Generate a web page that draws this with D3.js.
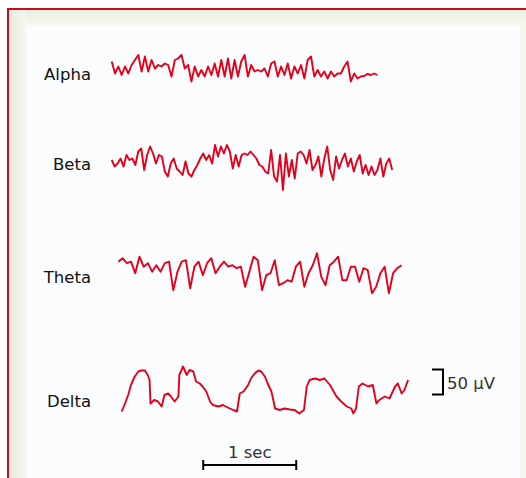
<!DOCTYPE html>
<html>
<head>
<meta charset="utf-8">
<script src="https://cdn.jsdelivr.net/npm/d3@7"></script>
<style>
  html, body { margin: 0; padding: 0; background: #ffffff; }
  svg { display: block; }
</style>
</head>
<body>
<div id="chart"></div>
<script>
// band names, in drawing order
const bands = ["Alpha", "Beta", "Theta", "Delta"];

// onset of each trace (sec) and sample rates (Hz) for the evenly sampled ones
const onsets = [0.126, 0.126, 0.197, 0.233];
const sampleRates = [28, 31.5, 22];

// amplitudes in microvolts
const alphaUV = [17, -7, 7, -10, 7, -7, 10, 20, 30, -3,
    27, -3, 20, 3, 10, 7, 13, 10, -13, 20,
    23, 30, 3, 10, -23, 7, -13, 0, -13, 7,
    -10, 13, -13, 20, -13, 23, -17, 20, -13, 17,
    30, -13, 10, -3, 0, -3, 3, -13, 13, 17,
    -13, 7, -10, 13, -17, 7, -7, 10, -17, 20,
    27, -13, 0, -13, -3, -17, -3, -13, -7, -7,
    7, 17, -23, -7, -17, -13, -12, -8, -10, -7,
    -10];

const betaUV = [4, -9, -3, 7, -9, 14, 4, 7, -6, 21,
    27, -16, 14, 31, 17, -3, 14, 11, -19, -29,
    -3, 7, -13, -19, -26, 1, -23, -29, -16, -6,
    7, 17, 4, 14, -3, 34, 11, 31, 17, 34,
    21, -13, 14, -9, 14,
    17, 14, 21, 14, 7, -6, -9, -19, -23, 24,
    -29, -39, 14, -56, 17, -29, 4, -33, 17, 21,
    14, -3, 24, -16, -6, 11, -29, 7, 31, -16,
    -36, 11, -13, 4, 17, -9, 7, -19, 1, 14,
    -23, -6, -26, -9, -26, -16, 7, -29, -3, 7,
    -16];

const thetaUV = [20, 27, 17, 20, -3, 30, 10, 17, 0, 13,
    0, 17, 20, -37, 0, 20, 23, -33, 10, 20,
    -7, 17, 27, -3, 10, 20, 10, 13, 7, 10,
    -30, 0, 30, 23, -37, -7, -3, 23, -27, -23,
    -17, -20, 10, 20, -30, -3, 13, 37, -10, -27,
    13, 20, 30, -17, -17, 10, 10, -20, 7, 3,
    -43, -30, -3, 10, -43, -3, 7, 13];

// delta is read at uneven times (sec from its onset) to keep the sharp edges
const deltaT = [0.00, 0.03, 0.07, 0.10, 0.14, 0.18, 0.21, 0.25, 0.28, 0.30,
    0.31, 0.35, 0.39, 0.43, 0.46, 0.50, 0.53, 0.57, 0.61, 0.62,
    0.66, 0.70, 0.73, 0.77, 0.80, 0.84, 0.87, 0.91, 0.95, 0.98,
    1.04, 1.09, 1.14, 1.20, 1.24, 1.27, 1.31, 1.36, 1.39, 1.43,
    1.47, 1.50, 1.54, 1.57, 1.61, 1.65, 1.70, 1.75, 1.81, 1.86,
    1.91, 1.96, 1.99, 2.02, 2.08, 2.13, 2.18, 2.24, 2.27, 2.31,
    2.36, 2.42, 2.47, 2.49, 2.52, 2.55, 2.59, 2.65, 2.70, 2.74,
    2.77, 2.83, 2.88, 2.94, 2.97, 3.01, 3.04, 3.08];
const deltaUV = [-43, -30, -10, 10, 27, 37, 39, 39, 30, 20,
    -27, -20, -23, -33, -10, -7, -13, -23, -13, 30,
    47, 30, 40, 37, 17, 13, 7, -3, -23, -30,
    -33, -30, -35, -40, -43, -7, -3, 10, 23, 33,
    39, 37, 27, 13, -3, -37, -40, -37, -39, -40,
    -47, -40, 7, 20, 23, 20, 23, 10, 0, -13,
    -23, -33, -37, -47, -37, 7, 13, 7, 10, -27,
    -20, -13, -17, 7, 13, -7, 0, 20];

// calibration bars
const scaleUV = 50;
const scaleSec = 1;
const timeBarStart = 1.11;

//DIMENSIONS
const width = 526, height = 478;
const rowY = [70, 162, 271.7, 390];
const labelY = [80, 170, 283, 407];
const traceColor = "#e2001c";

const svg = d3.select("#chart").append("svg")
    .attr("width", width)
    .attr("height", height);

//FRAME
const defs = svg.append("defs");
const gradL = defs.append("linearGradient").attr("id", "creamL")
    .attr("x1", 0).attr("x2", 1).attr("y1", 0).attr("y2", 0);
gradL.append("stop").attr("offset", 0).attr("stop-color", "#e9e9d9");
gradL.append("stop").attr("offset", 1).attr("stop-color", "#f6f7f2");
const gradT = defs.append("linearGradient").attr("id", "creamT")
    .attr("x1", 0).attr("x2", 0).attr("y1", 0).attr("y2", 1);
gradT.append("stop").attr("offset", 0).attr("stop-color", "#ebecdf");
gradT.append("stop").attr("offset", 1).attr("stop-color", "#f6f7f2");
// soft edge, the original is a scaled-up bitmap
defs.append("filter").attr("id", "soft")
    .append("feGaussianBlur").attr("stdDeviation", 0.45);

svg.append("rect").attr("x", 8).attr("y", 9).attr("width", width).attr("height", height)
    .attr("fill", "#f4f5ee");
svg.append("rect").attr("x", 8).attr("y", 9).attr("width", width).attr("height", 16)
    .attr("fill", "url(#creamT)");
svg.append("rect").attr("x", 8).attr("y", 9).attr("width", 18).attr("height", height)
    .attr("fill", "url(#creamL)");
svg.append("rect").attr("x", 26).attr("y", 25).attr("width", 494).attr("height", height)
    .attr("fill", "#fbfcfd");
svg.append("line").attr("x1", 7).attr("x2", width).attr("y1", 9).attr("y2", 9)
    .attr("stroke", "#cc0b1f").attr("stroke-width", 2);
svg.append("line").attr("x1", 8).attr("x2", 8).attr("y1", 8).attr("y2", height)
    .attr("stroke", "#cc0b1f").attr("stroke-width", 2);

//SCALES
const xScale = d3.scaleLinear().domain([0, 4]).range([100, 472]);
const yScale = d3.scaleLinear().domain([-50, 50]).range([25, -25]);

const series = [
    alphaUV.map((v, i) => ({ t: onsets[0] + i / sampleRates[0], v })),
    betaUV.map((v, i) => ({ t: onsets[1] + i / sampleRates[1], v })),
    thetaUV.map((v, i) => ({ t: onsets[2] + i / sampleRates[2], v })),
    deltaUV.map((v, i) => ({ t: onsets[3] + deltaT[i], v })),
];

const font = "'DejaVu Sans', Verdana, sans-serif";

bands.forEach((name, k) => {
    const row = svg.append("g").attr("transform", `translate(0,${rowY[k]})`);
    const line = d3.line()
        .x(d => xScale(d.t))
        .y(d => yScale(d.v));
    row.append("path")
        .datum(series[k])
        .attr("d", line)
        .attr("fill", "none")
        .attr("stroke", traceColor)
        .attr("stroke-width", 1.9)
        .attr("stroke-linejoin", "round")
        .attr("filter", "url(#soft)");

    svg.append("text")
        .attr("x", 91)
        .attr("y", labelY[k])
        .attr("text-anchor", "end")
        .attr("font-family", font)
        .attr("font-size", 16.5)
        .attr("fill", "#111")
        .text(name);
});

//AMPLITUDE BAR
const ampG = svg.append("g").attr("transform", "translate(0,382)");
const bx = 443, tick = 11;
ampG.append("path")
    .attr("d", `M${bx - tick},${yScale(scaleUV / 2)}H${bx}V${yScale(-scaleUV / 2)}H${bx - tick}`)
    .attr("fill", "none")
    .attr("stroke", "#000")
    .attr("stroke-width", 2);
svg.append("text")
    .attr("x", 447)
    .attr("y", 389)
    .attr("font-family", font)
    .attr("font-size", 16.5)
    .attr("fill", "#333")
    .text("50 µV");

//TIME BAR
const tx0 = xScale(timeBarStart), tx1 = xScale(timeBarStart + scaleSec);
const timeG = svg.append("g");
timeG.append("line").attr("x1", tx0).attr("x2", tx1).attr("y1", 465).attr("y2", 465)
    .attr("stroke", "#000").attr("stroke-width", 2);
[tx0, tx1].forEach(x => {
    timeG.append("line").attr("x1", x).attr("x2", x).attr("y1", 460).attr("y2", 470)
        .attr("stroke", "#000").attr("stroke-width", 2);
});
svg.append("text")
    .attr("x", (tx0 + tx1) / 2)
    .attr("y", 458)
    .attr("text-anchor", "middle")
    .attr("font-family", font)
    .attr("font-size", 16.5)
    .attr("fill", "#333")
    .text("1 sec");
</script>
</body>
</html>
